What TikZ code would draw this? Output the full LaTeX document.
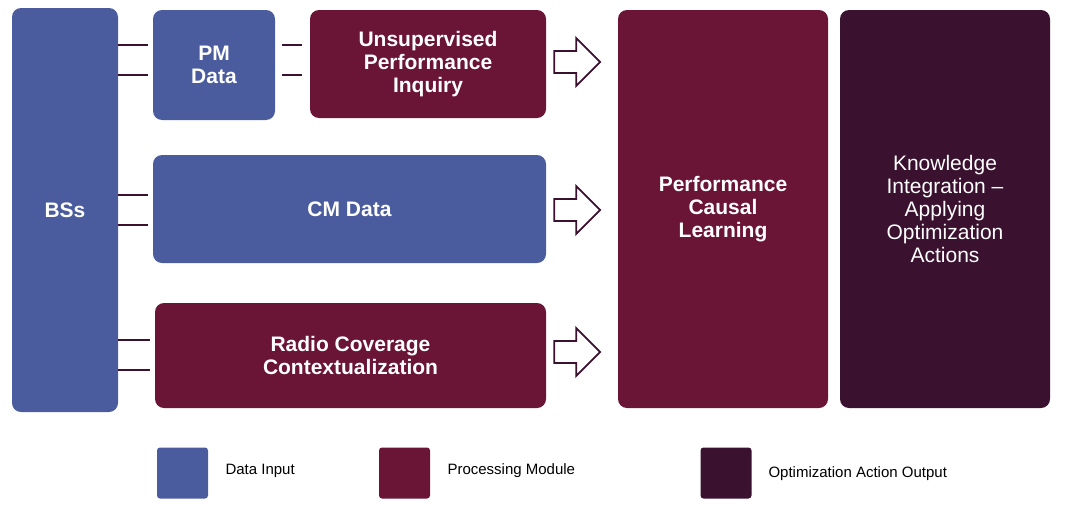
\documentclass[tikz,border=0pt]{standalone}
\usepackage{fontspec}
\setmainfont{Liberation Sans}
\definecolor{blu}{HTML}{4A5C9E}
\definecolor{mar}{HTML}{6A1436}
\definecolor{drk}{HTML}{3A112E}
\begin{document}
\begin{tikzpicture}[x=1pt,y=-1pt,
 box/.style={draw=none,rounded corners=9pt,text=white,font=\bfseries\fontsize{21}{23}\selectfont,align=center,inner sep=0pt},
 con/.style={line width=2.2pt,draw=drk},
 harr/.style={line width=1.8pt,draw=drk,fill=white,line join=miter},
 leg/.style={rounded corners=3pt,minimum width=51pt,minimum height=51pt,inner sep=0pt},
 lt/.style={font=\fontsize{15}{17}\selectfont,anchor=west}]
\useasboundingbox (0,0) rectangle (1076,506);
\node[box,fill=blu,minimum width=106pt,minimum height=404pt] (bs) at (65,210) {BSs};
\node[box,fill=blu,minimum width=122pt,minimum height=110pt] (pm) at (214,65) {PM\\Data};
\node[box,fill=mar,minimum width=236pt,minimum height=108pt] (un) at (428,64) {Unsupervised\\Performance\\Inquiry};
\node[box,fill=blu,minimum width=393pt,minimum height=108pt] (cm) at (349.5,209) {CM Data};
\node[box,fill=mar,minimum width=391pt,minimum height=105pt] (rc) at (350.5,355.5) {Radio Coverage\\Contextualization};
\node[box,fill=mar,minimum width=210pt,minimum height=398pt] (pc) at (723,209) {Performance\\Causal\\Learning};
\node[box,fill=drk,minimum width=210pt,minimum height=398pt,font=\fontsize{21}{23}\selectfont] (ki) at (945,209) {Knowledge\\Integration --\\Applying\\Optimization\\Actions};
\foreach \t/\y in {pm/45,pm/75,cm/195,cm/225,rc/340,rc/370}
  \draw[con] (bs.east |- 0,\y) -- ([xshift=-5pt]\t.west |- 0,\y);
\foreach \y in {45,75}
  \draw[con] ([xshift=7pt]pm.east |- 0,\y) -- ([xshift=-8pt]un.west |- 0,\y);
\foreach \y/\t in {62/un,210/cm,352/rc}{
  \coordinate (a\y) at ([xshift=8pt]\t.east |- 0,\y);
  \draw[harr] (a\y) ++(0,-11) -- ++(22,0) -- ++(0,-13) -- ++(24,24) -- ++(-24,24) -- ++(0,-13) -- ++(-22,0) -- cycle;}
\node[leg,fill=blu] (l1) at (182.5,473) {};
\node[lt] at (222,471) {Data Input};
\node[leg,fill=mar] (l2) at (404.5,473) {};
\node[lt] at (444,471) {Processing Module};
\node[leg,fill=drk] (l3) at (726,473) {};
\node[lt] at (765,474) {Optimization Action Output};
\end{tikzpicture}
\end{document}
